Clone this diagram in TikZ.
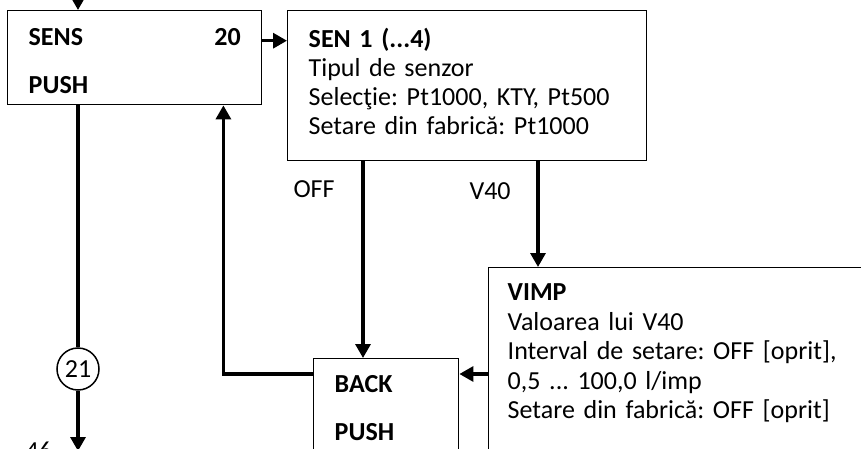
\documentclass[tikz,border=0pt]{standalone}
\usepackage{fontspec}
\setmainfont{Carlito}
\frenchspacing
\usetikzlibrary{arrows.meta}

\begin{document}
\begin{tikzpicture}[
  x=1pt, y=-1pt,
  every node/.style={font=\fontsize{26}{29}\selectfont},
  box/.style={rectangle, draw, line width=1.4pt, anchor=north west, align=left, inner xsep=21pt, inner ysep=0pt},
  circ/.style={circle, draw, line width=1.5pt, inner sep=0pt, minimum size=42pt},
  arrow/.style={-{Triangle[length=14pt, width=15pt]}, line width=3.2pt},
  link/.style={line width=3.2pt}
]
\useasboundingbox (0,0) rectangle (861,449);
\clip (0,0) rectangle (861,449);

\node[box, text width=212pt, text height=35pt, text depth=59pt] (sens) at (7,10)
{\textbf{SENS}\hfill\textbf{20}\\[19pt]\textbf{PUSH}};

\node[box, text width=317pt, text height=37pt, text depth=113pt] (sen1) at (287,10)
{\textbf{SEN 1 (...4)}\\
Tipul de senzor\\
Selecţie: Pt1000, KTY, Pt500\\
Setare din fabrică: Pt1000};

\node[box, inner xsep=19pt, text width=360pt, text height=33pt, text depth=170pt,
  font=\fontsize{26}{29.5}\selectfont] (vimp) at (488,267)
{\textbf{VIMP}\\
Valoarea lui V40\\
Interval de setare: OFF [oprit],\\
0,5 ... 100,0 l/imp\\
Setare din fabrică: OFF [oprit]};

\node[box, text width=103pt, text height=34pt, text depth=78pt] (back) at (313,358)
{\textbf{BACK}\\[19pt]\textbf{PUSH}};

\node[circ] (c21) at (78,369) {21};

% labels
\node[anchor=base west] (off) at (290,197) {OFF};
\node[anchor=base west] (v40) at (466,200) {V40};
\node[anchor=base west] (n46) at (22,459) {46};

% free ends and attach points
\coordinate (top) at (78,-20);
\coordinate (down) at (78,451);
\coordinate (sensout) at ([yshift=17pt]sens.east);
\coordinate (sensin) at ([xshift=-39pt]sens.south east);
\coordinate (backout) at ([yshift=-16pt]back.north west);
\coordinate (backin) at ([yshift=-16pt]back.north east);
\coordinate (offdrop) at ([xshift=76pt]sen1.south west);
\coordinate (v40drop) at ([xshift=251pt]sen1.south west);

% Arrows
\draw[arrow] (top) -- (top |- sens.north);
\draw[arrow] (sensout) -- (sensout -| sen1.west);
\draw[link] (c21 |- sens.south) -- (c21);
\draw[arrow] (c21) -- (down);
\draw[arrow] (backout) -| (sensin);
\draw[arrow] (offdrop) -- (offdrop |- back.north);
\draw[arrow] (v40drop) -- (v40drop |- vimp.north);
\draw[arrow] (vimp.west |- backin) -- (backin);

\end{tikzpicture}
\end{document}
